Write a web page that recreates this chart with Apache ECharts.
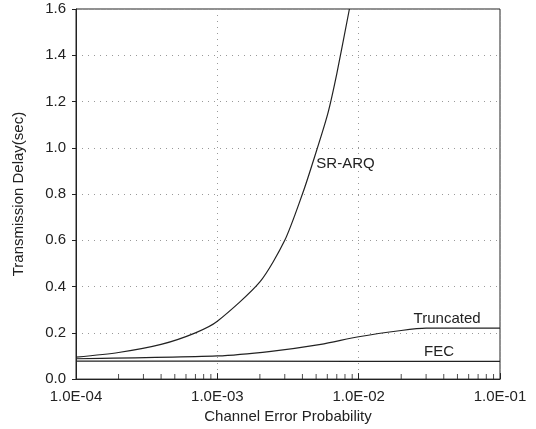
<!DOCTYPE html>
<html>
<head>
<meta charset="utf-8">
<script src="https://cdn.jsdelivr.net/npm/echarts@6/dist/echarts.min.js"></script>
<style>
  html, body { margin: 0; padding: 0; background: #fff; }
  #chart { width: 536px; height: 429px; }
</style>
</head>
<body>
<div id="chart"></div>
<script>
// curves: [channel error probability, delay (sec)]
var srArq = [[1e-4, 0.095], [2e-4, 0.115], [4e-4, 0.15], [7e-4, 0.20], [1e-3, 0.25], [2e-3, 0.42],
             [3e-3, 0.60], [4e-3, 0.80], [4.7e-3, 0.93], [6e-3, 1.14], [7e-3, 1.32], [8.6e-3, 1.6]];
var truncated = [[1e-4, 0.088], [1e-3, 0.10], [2.4e-3, 0.12], [5.4e-3, 0.15], [1e-2, 0.183],
                 [2e-2, 0.21], [3e-2, 0.22], [1e-1, 0.22]];
var fec = [[1e-4, 0.078], [1e-3, 0.078], [1e-2, 0.077], [3.7e-2, 0.077], [1e-1, 0.077]];

var yTicks = [0, 0.2, 0.4, 0.6, 0.8, 1.0, 1.2, 1.4, 1.6];
var decades = [1e-4, 1e-3, 1e-2];
var minorSteps = [2, 3, 4, 5, 6, 7, 8, 9];

// small tick marks along the log axis (2..9 of each decade)
var minorTicks = [];
decades.forEach(function (d) {
    minorSteps.forEach(function (m) { minorTicks.push([d * m, 0]); });
});

var FONT = 'Liberation Sans';
var INK = '#222';

function withLabel(arr, idx, text, labelOpt) {
    return arr.map(function (p, i) {
        if (i !== idx) return p;
        return { value: p, label: Object.assign({ show: true, formatter: text }, labelOpt) };
    });
}

var myChart = echarts.init(document.getElementById('chart'));

var option = {
    animation: false,
    textStyle: { fontFamily: FONT },
    grid: {
        left: 76, right: 36, top: 9, bottom: 49,
        show: true, borderColor: INK, borderWidth: 1
    },
    xAxis: {
        type: 'log',
        logBase: 10,
        min: 1e-4,
        max: 1e-1,
        name: 'Channel Error Probability',
        nameLocation: 'middle',
        nameGap: 28,
        nameTextStyle: { fontSize: 15, color: INK, fontFamily: FONT },
        axisLine: { lineStyle: { color: INK } },
        axisTick: { show: true, inside: true, length: 6, lineStyle: { color: INK } },
        axisLabel: {
            fontSize: 15, color: INK, margin: 10, fontFamily: FONT,
            showMinLabel: true, showMaxLabel: true,
            formatter: function (v) {
                var e = Math.round(Math.log10(v));
                var s = (e < 0 ? '-' : '+') + (Math.abs(e) < 10 ? '0' : '') + Math.abs(e);
                return '1.0E' + s;
            }
        },
        splitLine: { show: true, lineStyle: { color: '#999', type: [1, 5], width: 1 } }
    },
    yAxis: {
        type: 'value',
        min: 0,
        max: 1.6,
        interval: 0.2,
        name: 'Transmission Delay(sec)',
        nameLocation: 'middle',
        nameGap: 50,
        nameTextStyle: { fontSize: 15, color: INK, fontFamily: FONT },
        axisLine: { show: true, lineStyle: { color: INK } },
        axisTick: { show: true, length: 4, lineStyle: { color: INK } },
        axisLabel: {
            fontSize: 15, color: INK, margin: 10, fontFamily: FONT,
            formatter: function (v) { return v.toFixed(1); }
        },
        splitLine: { show: true, lineStyle: { color: '#999', type: [1, 5], width: 1 } }
    },
    series: [
        {
            name: 'SR-ARQ',
            type: 'line',
            smooth: 0.25,
            showSymbol: true,
            symbol: 'circle',
            symbolSize: 0,
            lineStyle: { color: INK, width: 1.2 },
            itemStyle: { color: INK },
            data: withLabel(srArq, 8, 'SR-ARQ', {
                position: 'right', distance: 4, fontSize: 15, color: INK, fontFamily: FONT
            })
        },
        {
            name: 'Truncated',
            type: 'line',
            smooth: 0.25,
            showSymbol: true,
            symbol: 'circle',
            symbolSize: 0,
            lineStyle: { color: INK, width: 1.2 },
            itemStyle: { color: INK },
            data: withLabel(truncated, 6, 'Truncated', {
                position: 'top', distance: 2, offset: [21, 0], fontSize: 15, color: INK, fontFamily: FONT
            })
        },
        {
            name: 'FEC',
            type: 'line',
            showSymbol: true,
            symbol: 'circle',
            symbolSize: 0,
            lineStyle: { color: INK, width: 1.2 },
            itemStyle: { color: INK },
            data: withLabel(fec, 3, 'FEC', {
                position: 'top', distance: 2, fontSize: 15, color: INK, fontFamily: FONT
            })
        },
        {
            name: 'minorTicks',
            type: 'scatter',
            silent: true,
            symbol: 'rect',
            symbolSize: [1, 5],
            symbolOffset: [0, -2.5],
            itemStyle: { color: INK },
            data: minorTicks
        }
    ]
};

myChart.setOption(option);
window.addEventListener('resize', function () { myChart.resize(); });
</script>
</body>
</html>
